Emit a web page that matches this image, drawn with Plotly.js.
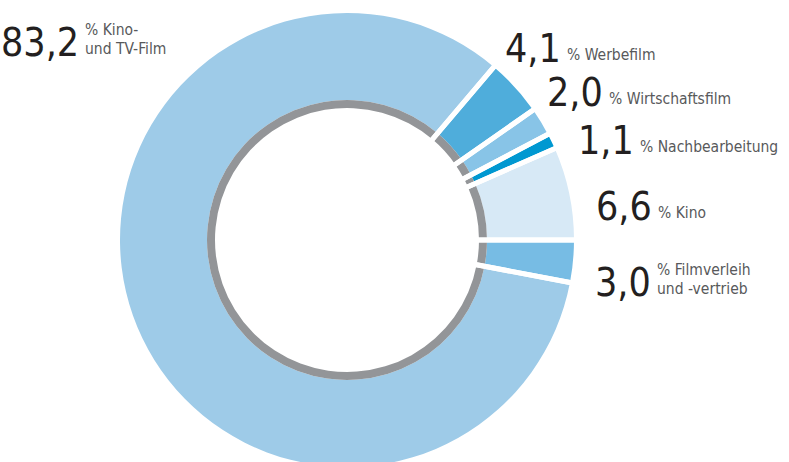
<!DOCTYPE html>
<html>
<head>
<meta charset="utf-8">
<script src="https://cdn.plot.ly/plotly-3.0.1.min.js"></script>
<style>
  html, body { margin: 0; padding: 0; overflow: hidden; background: #fff; }
  #chart { width: 789px; height: 480px; }
</style>
</head>
<body>
<div id="chart"></div>
<script>
// ---- data ----
const categories = ['Werbefilm', 'Wirtschaftsfilm', 'Nachbearbeitung', 'Kino', 'Filmverleih und -vertrieb', 'Kino- und TV-Film'];
const shares = [4.1, 2.0, 1.1, 6.6, 3.0, 83.2];
const sliceColors = ['#4FADDB', '#88C4E7', '#0098D1', '#D7E9F6', '#77BCE4', '#9ECBE8'];
const labelLines = [
  ['% Werbefilm'],
  ['% Wirtschaftsfilm'],
  ['% Nachbearbeitung'],
  ['% Kino'],
  ['% Filmverleih', 'und -vertrieb'],
  ['% Kino-', 'und TV-Film']
];

// ---- layout geometry ----
const W = 789, H = 480;
const cx = 347, cy = 240, R = 227, rRingOut = 140, rRingIn = 132;
function dom(r) {
  return { x: [(cx - r) / W, (cx + r) / W], y: [(H - cy - r) / H, (H - cy + r) / H] };
}
const before = shares.slice(0, 4).reduce((a, b) => a + b, 0);
const total = shares.reduce((a, b) => a + b, 0);
const rotation = 90 - before / total * 360;

const common = {
  type: 'pie', values: shares, labels: categories, sort: false,
  direction: 'clockwise', rotation: rotation, textinfo: 'none',
  hoverinfo: 'skip', showlegend: false
};

const traces = [
  Object.assign({}, common, {
    domain: dom(R), hole: rRingOut / R,
    marker: { colors: sliceColors, line: { width: 0 } }
  }),
  Object.assign({}, common, {
    domain: dom(rRingOut), hole: rRingIn / rRingOut,
    marker: { colors: shares.map(() => '#939598'), line: { width: 0 } }
  }),
  Object.assign({}, common, {
    domain: dom(R + 4), hole: 0,
    marker: { colors: shares.map(() => 'rgba(0,0,0,0)'), line: { width: 5, color: '#ffffff' } }
  })
];

// ---- labels ----
const txtFont = 'DejaVu Sans Condensed, Liberation Sans Narrow, sans-serif';
const numSize = 39, lblSize = 15.5;
// [labelLeft, numBaseline, labelBaselines]
const pos = [
  [566, 63, [62]],
  [608, 107, [106]],
  [639, 155, [154]],
  [657, 221, [220]],
  [656, 297, [277, 296]],
  [84, 57, [37, 56]]
];
function yFromBaseline(base, size, pad) {
  const bottom = base + size * 0.22 + pad;
  return 1 - bottom / H;
}
const annotations = [];
shares.forEach((v, i) => {
  const p = pos[i];
  annotations.push({
    xref: 'paper', yref: 'paper', x: (p[0] - 3) / W, y: yFromBaseline(p[1], numSize, 1),
    xanchor: 'right', yanchor: 'bottom', showarrow: false,
    text: v.toFixed(1).replace('.', ','),
    font: { family: txtFont, size: numSize, color: '#231F20' }
  });
  labelLines[i].forEach((t, j) => {
    annotations.push({
      xref: 'paper', yref: 'paper', x: p[0] / W, y: yFromBaseline(p[2][j], lblSize, 0),
      xanchor: 'left', yanchor: 'bottom', showarrow: false, borderpad: 0,
      text: t,
      font: { family: txtFont, size: lblSize, color: '#58595B' }
    });
  });
});

const layout = {
  width: W, height: H,
  margin: { l: 0, r: 0, t: 0, b: 0 },
  paper_bgcolor: '#ffffff', plot_bgcolor: '#ffffff',
  showlegend: false,
  annotations: annotations
};

Plotly.newPlot('chart', traces, layout, { displayModeBar: false, staticPlot: true });
</script>
</body>
</html>
